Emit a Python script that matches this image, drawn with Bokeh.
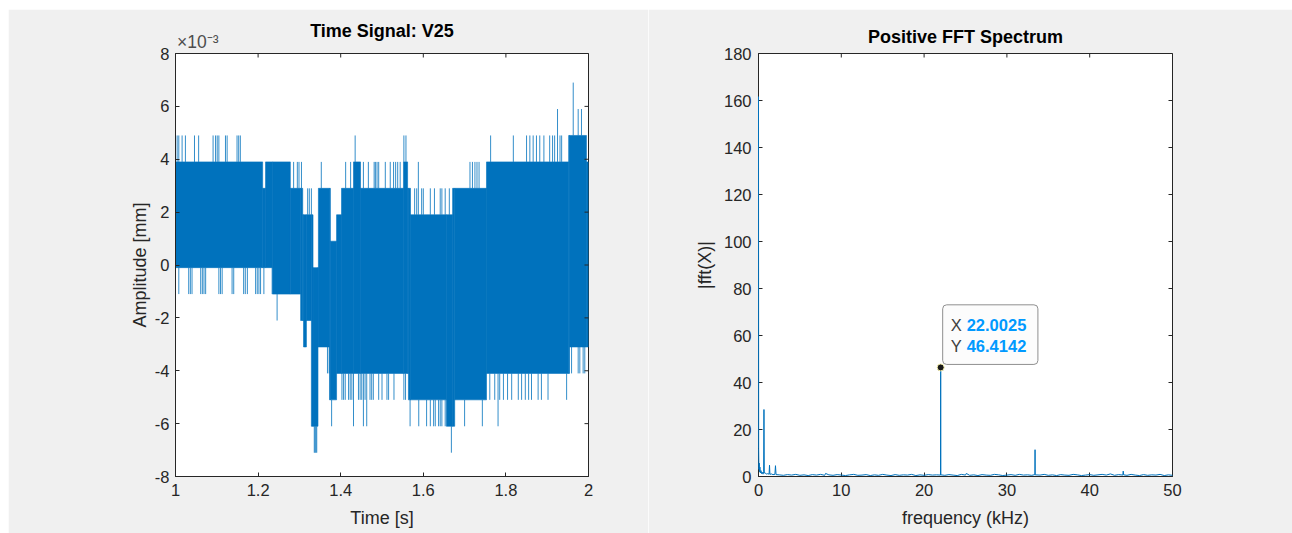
import bisect
import math
from bokeh.plotting import figure
from bokeh.layouts import row, column
from bokeh.models import FixedTicker, Range1d, Label, ColumnDataSource, Spacer, LinearAxis
from bokeh.embed import file_html
from bokeh.resources import INLINE

# ---------------- Time signal (amplitude in units of 1e-3 mm) ----------------
time_ticks = [1.0, 1.2, 1.4, 1.6, 1.8, 2.0]
time_tick_labels = ["1", "1.2", "1.4", "1.6", "1.8", "2"]
amp_ticks = [-8, -6, -4, -2, 0, 2, 4, 6, 8]
amp_tick_labels = ["-8", "-6", "-4", "-2", "0", "2", "4", "6", "8"]
amp_exponent_text = "×10⁻³"

upper_edges = [1.000, 1.211, 1.218, 1.278, 1.308, 1.333, 1.346, 1.375, 1.390, 1.402,
               1.431, 1.448, 1.552, 1.562, 1.569, 1.671, 1.753, 1.952, 1.995, 2.000]
upper_hi = [3.9, 2.9, 3.9, 2.9, 1.9, -0.1, 2.9, 0.9, 1.9, 2.9,
            3.9, 2.9, 3.9, 2.9, 1.9, 2.9, 3.9, 4.9, 3.9]
lower_edges = [1.000, 1.235, 1.303, 1.310, 1.317, 1.329, 1.345, 1.373, 1.390, 1.564,
               1.656, 1.676, 1.753, 1.954, 2.000]
lower_lo = [-0.1, -1.1, -2.1, -3.1, -2.1, -6.1, -3.1, -5.1, -4.1, -5.1,
            -6.1, -5.1, -4.1, -3.1]

spike_up_t = [1.004, 1.008, 1.016, 1.024, 1.046, 1.056, 1.091, 1.097, 1.101, 1.105,
              1.121, 1.125, 1.149, 1.153, 1.157,
              1.286, 1.295, 1.299, 1.305, 1.320, 1.324, 1.329, 1.353, 1.412, 1.424,
              1.435, 1.553, 1.558,
              1.455, 1.467, 1.481, 1.484, 1.488, 1.492, 1.508, 1.520, 1.528, 1.533, 1.538, 1.544,
              1.579, 1.584, 1.588, 1.596, 1.600, 1.617, 1.627, 1.641, 1.645, 1.653, 1.663,
              1.713, 1.719, 1.725, 1.730, 1.735,
              1.763, 1.818, 1.850, 1.858, 1.866, 1.874, 1.882, 1.892, 1.906, 1.913, 1.918,
              1.925, 1.931, 1.935, 1.963, 1.975, 1.983]
spike_up_v = [4.9, 4.9, 4.9, 4.9, 4.9, 4.9, 4.9, 4.9, 4.9, 4.9,
              4.9, 4.9, 4.9, 4.9, 4.9,
              3.9, 3.9, 3.9, 3.9, 2.9, 2.9, 2.9, 3.9, 3.9, 3.9,
              4.9, 4.9, 4.9,
              3.9, 3.9, 3.9, 3.9, 3.9, 3.9, 3.9, 3.9, 3.9, 3.9, 3.9, 3.9,
              2.9, 2.9, 3.9, 2.9, 2.9, 2.9, 2.9, 2.9, 2.9, 2.9, 2.9,
              3.9, 3.9, 3.9, 3.9, 3.9,
              4.9, 4.9, 4.9, 4.9, 4.9, 4.9, 4.9, 4.9, 4.9, 4.9, 4.9,
              5.9, 4.9, 4.9, 6.9, 5.9, 5.9]
spike_dn_t = [1.008, 1.032, 1.036, 1.040, 1.061, 1.065, 1.069, 1.073, 1.105, 1.109,
              1.113, 1.137, 1.141, 1.165, 1.169, 1.174, 1.194, 1.198, 1.202, 1.206,
              1.214, 1.234, 1.246,
              1.336, 1.338, 1.340, 1.342, 1.368, 1.372, 1.378,
              1.403, 1.407, 1.411, 1.419, 1.423, 1.427, 1.431, 1.443, 1.447, 1.451,
              1.455, 1.459, 1.463, 1.471, 1.475, 1.479, 1.492, 1.500, 1.512, 1.516,
              1.529, 1.553, 1.557,
              1.568, 1.589, 1.608, 1.617, 1.625, 1.629, 1.637, 1.641, 1.645, 1.653,
              1.668, 1.700, 1.743,
              1.761, 1.773, 1.781, 1.785, 1.794, 1.804, 1.814, 1.830, 1.838, 1.847,
              1.855, 1.862, 1.878, 1.886, 1.902, 1.947,
              1.959, 1.975, 1.979, 1.987, 1.991]
spike_dn_v = [-1.1, -1.1, -1.1, -1.1, -1.1, -1.1, -1.1, -1.1, -1.1, -1.1,
              -1.1, -1.1, -1.1, -1.1, -1.1, -1.1, -1.1, -1.1, -1.1, -1.1,
              -1.1, -1.1, -2.1,
              -7.1, -7.1, -7.1, -7.1, -4.1, -4.1, -6.1,
              -5.1, -5.1, -5.1, -5.1, -5.1, -5.1, -6.1, -5.1, -5.1, -5.1,
              -6.1, -5.1, -6.1, -5.1, -5.1, -5.1, -5.1, -5.1, -5.1, -5.1,
              -5.1, -5.1, -5.1,
              -6.1, -6.1, -6.1, -6.1, -6.1, -6.1, -6.1, -6.1, -6.1, -6.1,
              -7.1, -6.1, -6.1,
              -5.1, -5.1, -6.1, -5.1, -5.1, -5.1, -5.1, -5.1, -5.1, -5.1,
              -5.1, -5.1, -5.1, -5.1, -5.1, -5.1,
              -4.1, -4.1, -4.1, -4.1, -4.1]

# ---------------- FFT spectrum ----------------
freq_ticks = [0, 10, 20, 30, 40, 50]
mag_ticks = [0, 20, 40, 60, 80, 100, 120, 140, 160, 180]
fft_freq = [0.0, 0.02, 0.05, 0.09, 0.13, 0.17, 0.22, 0.30, 0.38, 0.46, 0.55, 0.62, 0.66, 0.70,
            0.80, 0.95, 1.10, 1.28, 1.33, 1.38, 1.55, 1.75, 1.98, 2.05, 2.12, 2.5, 3.0, 3.5,
            4.0, 4.5, 5.0, 5.5, 6.0, 6.5, 7.0, 7.5, 8.0, 8.1, 8.5, 9.0, 9.5, 10.0, 10.5,
            11.0, 11.5, 12.0, 12.5, 13.0, 13.5, 14.0, 14.5, 15.0, 15.5, 16.0, 16.5, 17.0,
            17.5, 18.0, 18.5, 19.0, 19.5, 20.0, 20.5, 21.0, 21.5, 21.98, 22.0025, 22.025,
            22.5, 23.0, 23.5, 24.0, 24.5, 25.0, 25.1, 25.5, 26.0, 26.5, 27.0, 27.5, 28.0,
            28.5, 29.0, 29.5, 30.0, 30.5, 31.0, 31.5, 32.0, 32.5, 33.0, 33.38, 33.40, 33.42,
            34.0, 34.5, 35.0, 35.5, 36.0, 36.5, 37.0, 37.5, 38.0, 38.5, 39.0, 39.5, 40.0,
            40.5, 41.0, 41.5, 42.0, 42.5, 43.0, 43.5, 44.0, 44.05, 44.1, 44.5, 45.0, 45.5,
            46.0, 46.5, 47.0, 47.5, 48.0, 48.5, 49.0, 49.5, 50.0]
fft_mag = [161.7, 12.0, 3.0, 5.7, 2.0, 4.0, 1.5, 2.5, 1.2, 1.8, 1.0, 2.0, 28.5, 1.5,
           1.6, 1.0, 1.2, 1.0, 4.8, 0.9, 1.1, 0.8, 0.9, 4.6, 0.8, 0.7, 0.5, 0.8,
           0.6, 0.9, 0.5, 0.7, 0.4, 0.8, 0.6, 0.9, 0.5, 1.3, 0.7, 0.5, 0.8, 0.6, 0.4,
           0.7, 0.9, 0.5, 0.6, 0.8, 0.4, 0.7, 0.5, 0.9, 0.6, 0.4, 0.8, 0.5, 0.7,
           0.6, 0.9, 0.4, 0.7, 0.5, 0.8, 0.6, 0.7, 0.6, 46.4142, 0.7,
           0.5, 0.8, 0.6, 0.4, 0.9, 0.6, 1.3, 0.5, 0.7, 0.4, 0.8, 0.6, 0.5,
           0.9, 0.7, 0.4, 0.6, 0.8, 0.5, 0.9, 0.6, 0.7, 0.5, 0.8, 11.4, 0.7,
           0.6, 0.9, 0.5, 0.7, 0.4, 0.8, 0.6, 0.5, 0.9, 0.7, 0.4, 0.6, 0.8,
           0.5, 0.7, 0.9, 0.6, 1.1, 0.5, 0.8, 0.6, 2.3, 0.7, 0.5, 0.9, 0.6,
           0.4, 0.8, 0.5, 0.7, 0.6, 0.9, 0.4, 0.7, 0.5]
peak_freq = 22.0025
peak_mag = 46.4142

# ---------------- styling ----------------
FONT = "Liberation Sans"
AXC = "#262626"
BLUE = "#0072BD"
BG = "#f0f0f0"


def style_axis(ax, ticks, labels, label_standoff, title_standoff):
    ax.ticker = FixedTicker(ticks=ticks)
    ax.major_label_overrides = {t: s for t, s in zip(ticks, labels)}
    ax.axis_line_color = AXC
    ax.axis_line_width = 1
    ax.major_tick_line_color = AXC
    ax.major_tick_in = 4
    ax.major_tick_out = 0
    ax.minor_tick_line_color = None
    ax.major_label_text_font = FONT
    ax.major_label_text_font_size = "16.5px"
    ax.major_label_text_color = AXC
    ax.major_label_standoff = label_standoff
    ax.axis_label_text_font = FONT
    ax.axis_label_text_font_size = "18px"
    ax.axis_label_text_font_style = "normal"
    ax.axis_label_text_color = AXC
    ax.axis_label_standoff = title_standoff


def make_fig(title, xr, yr, mb_left, mb_right, fw, title_standoff):
    p = figure(frame_width=fw, frame_height=423, x_range=xr, y_range=yr,
               output_backend="svg", toolbar_location=None,
               min_border_left=mb_left, min_border_right=mb_right,
               min_border_top=44, min_border_bottom=57)
    p.background_fill_color = "white"
    p.border_fill_color = BG
    p.outline_line_color = AXC
    p.outline_line_width = 1
    p.outline_line_alpha = 1
    p.xgrid.grid_line_color = None
    p.ygrid.grid_line_color = None
    p.title.text = title
    p.title.align = "center"
    p.title.text_font = FONT
    p.title.text_font_size = "18px"
    p.title.text_font_style = "bold"
    p.title.text_color = "black"
    p.title.standoff = title_standoff
    return p


def box_ticks(p, xticks, yticks, xmax, ymax):
    # inward tick marks on the top and right edges (half of each dash is clipped by the frame)
    p.scatter(xticks, [ymax] * len(xticks), marker="dash", angle=math.pi / 2, size=8,
              line_color=AXC, line_width=1)
    p.scatter([xmax] * len(yticks), yticks, marker="dash", size=8,
              line_color=AXC, line_width=1)


# ---------------- left: time signal ----------------
p1 = make_fig("Time Signal: V25", Range1d(1, 2), Range1d(-8, 8), 167, 60, 413, -24)
style_axis(p1.xaxis[0], time_ticks, time_tick_labels, 7, 9)
style_axis(p1.yaxis[0], amp_ticks, amp_tick_labels, 6, 2)
p1.xaxis[0].axis_label = "Time [s]"
p1.yaxis[0].axis_label = "Amplitude [mm]"

# exponent marker of the amplitude axis, shown above the top-left corner of the axes
EXPO_POS = 1.054
expo_axis = LinearAxis(ticker=FixedTicker(ticks=[EXPO_POS]))
expo_axis.major_label_overrides = {EXPO_POS: amp_exponent_text}
expo_axis.axis_line_color = None
expo_axis.major_tick_line_color = None
expo_axis.minor_tick_line_color = None
expo_axis.major_tick_in = 0
expo_axis.major_tick_out = 0
expo_axis.major_label_standoff = 2
expo_axis.major_label_text_font = FONT
expo_axis.major_label_text_font_size = "17.5px"
expo_axis.major_label_text_color = "#4d4d4d"
p1.add_layout(expo_axis, "above")


def level_at(edges, levels, t):
    i = bisect.bisect_right(edges, t) - 1
    return levels[min(max(i, 0), len(levels) - 1)]


all_edges = sorted(set(upper_edges) | set(lower_edges))
band = dict(left=[], right=[], top=[], bottom=[])
for a, b in zip(all_edges[:-1], all_edges[1:]):
    m = 0.5 * (a + b)
    band["left"].append(a)
    band["right"].append(b)
    band["top"].append(level_at(upper_edges, upper_hi, m))
    band["bottom"].append(level_at(lower_edges, lower_lo, m))
p1.quad(source=ColumnDataSource(band), left="left", right="right", top="top", bottom="bottom",
        fill_color=BLUE, line_color=BLUE, line_width=0.6)

sp = dict(x=[], y0=[], y1=[])
for t, v in zip(spike_up_t, spike_up_v):
    sp["x"].append(t); sp["y0"].append(level_at(upper_edges, upper_hi, t)); sp["y1"].append(v)
for t, v in zip(spike_dn_t, spike_dn_v):
    sp["x"].append(t); sp["y0"].append(level_at(lower_edges, lower_lo, t)); sp["y1"].append(v)
p1.segment(source=ColumnDataSource(sp), x0="x", x1="x", y0="y0", y1="y1",
           line_color=BLUE, line_width=1, line_alpha=0.8)
box_ticks(p1, time_ticks, amp_ticks, 2, 8)

# ---------------- right: FFT spectrum ----------------
p2 = make_fig("Positive FFT Spectrum", Range1d(0, 50), Range1d(0, 180), 110, 120, 414, 14)
style_axis(p2.xaxis[0], freq_ticks, [str(v) for v in freq_ticks], 7, 9)
style_axis(p2.yaxis[0], mag_ticks, [str(v) for v in mag_ticks], 7, 6)
p2.xaxis[0].axis_label = "frequency (kHz)"
p2.yaxis[0].axis_label = "|fft(X)|"

box_ticks(p2, freq_ticks, mag_ticks, 50, 180)
p2.line(fft_freq, fft_mag, line_color=BLUE, line_width=1, level="overlay")

# data tip
p2.add_layout(Label(x=peak_freq, y=peak_mag, x_offset=2, y_offset=3,
                    text="X 22.0025\nY 46.4142", text_font=FONT, text_font_size="16.5px",
                    text_color="#fcfcfc", text_align="left", text_baseline="bottom",
                    background_fill_color="#fcfcfc", border_line_color="#8f8f8f",
                    border_line_width=1, padding=10, border_radius=4))
p2.add_layout(Label(x=peak_freq, y=peak_mag, x_offset=10, y_offset=42, text="X",
                    text_font=FONT, text_font_size="16.5px", text_color="#404040",
                    text_baseline="alphabetic"))
p2.add_layout(Label(x=peak_freq, y=peak_mag, x_offset=26, y_offset=42, text="22.0025",
                    text_font=FONT, text_font_size="16.5px", text_color="#0099FF",
                    text_font_style="bold", text_baseline="alphabetic"))
p2.add_layout(Label(x=peak_freq, y=peak_mag, x_offset=10, y_offset=21, text="Y",
                    text_font=FONT, text_font_size="16.5px", text_color="#404040",
                    text_baseline="alphabetic"))
p2.add_layout(Label(x=peak_freq, y=peak_mag, x_offset=26, y_offset=21, text="46.4142",
                    text_font=FONT, text_font_size="16.5px", text_color="#0099FF",
                    text_font_style="bold", text_baseline="alphabetic"))
p2.scatter([peak_freq], [peak_mag], size=7, fill_color="#1a1a1a", line_color="#f5f0b0",
           line_width=1, level="overlay")

layout = column(Spacer(height=9), row(Spacer(width=8), p1, p2))
open("out.html", "w").write(file_html(layout, INLINE))
